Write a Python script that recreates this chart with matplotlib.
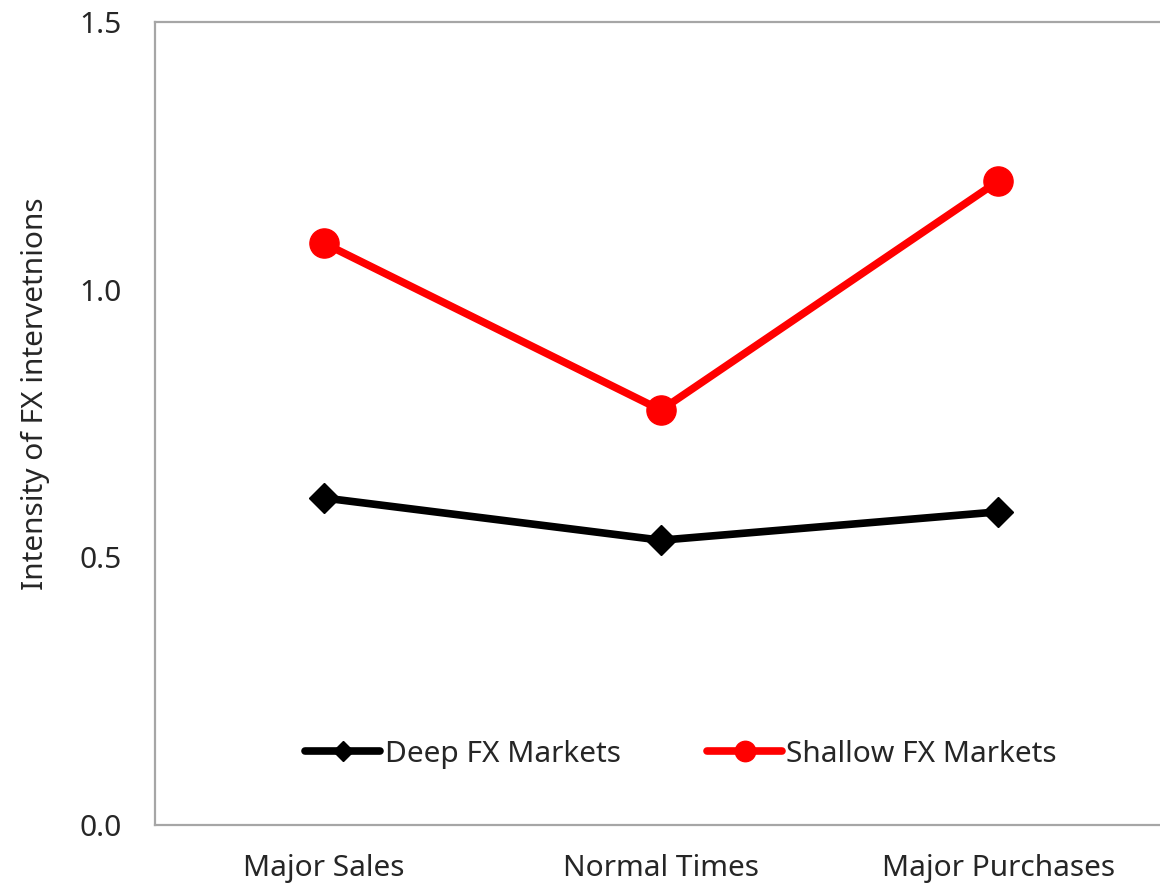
import matplotlib
matplotlib.use("Agg")
import matplotlib.pyplot as plt

# ----------------------------
# DATA
# ----------------------------
categories = ["Major Sales", "Normal Times", "Major Purchases"]
deep_fx = [0.611, 0.532, 0.585]
shallow_fx = [1.087, 0.775, 1.203]

y_ticks = [0.0, 0.5, 1.0, 1.5]
y_tick_labels = ["0.0", "0.5", "1.0", "1.5"]

# ----------------------------
# PLOT
# ----------------------------
plt.rcParams["font.family"] = ["Noto Sans", "DejaVu Sans"]
text_color = "#262626"
fs = 21.5

fig = plt.figure(figsize=(11.6, 8.9), dpi=100)
# axes spans past the right edge of the figure, so the right border is cut off
ax = fig.add_axes([155 / 1160, 65 / 890, 1012 / 1160, 803 / 890])

x = list(range(len(categories)))
ax.plot(x, deep_fx, color="black", lw=5.5, marker="D", ms=15,
        solid_capstyle="round", label="Deep FX Markets")
ax.plot(x, shallow_fx, color="#ff0000", lw=5.5, marker="o", ms=21,
        solid_capstyle="round", label="Shallow FX Markets")

ax.set_xlim(-0.5, 2.5)
ax.set_ylim(0, 1.5)
ax.set_xticks(x)
ax.set_xticklabels(categories)
ax.set_yticks(y_ticks)
ax.set_yticklabels(y_tick_labels)
ax.tick_params(length=0, labelsize=fs, colors=text_color)
ax.tick_params(axis="y", pad=24)
ax.tick_params(axis="x", pad=21)

for side in ["left", "bottom", "top", "right"]:
    ax.spines[side].set_color("#a6a6a6")
    ax.spines[side].set_linewidth(1.6)

ax.set_ylabel("Intensity of FX intervetnions", fontsize=fs, color=text_color)
ax.yaxis.set_label_coords(-0.104, 0.537)

leg = ax.legend(loc="center", bbox_to_anchor=(0.52, 0.088), ncol=2,
                frameon=False, fontsize=fs, handlelength=2.5,
                handletextpad=0.15, columnspacing=2.9, markerscale=0.7)
for t in leg.get_texts():
    t.set_color(text_color)

fig.savefig("out.png", dpi=100)
